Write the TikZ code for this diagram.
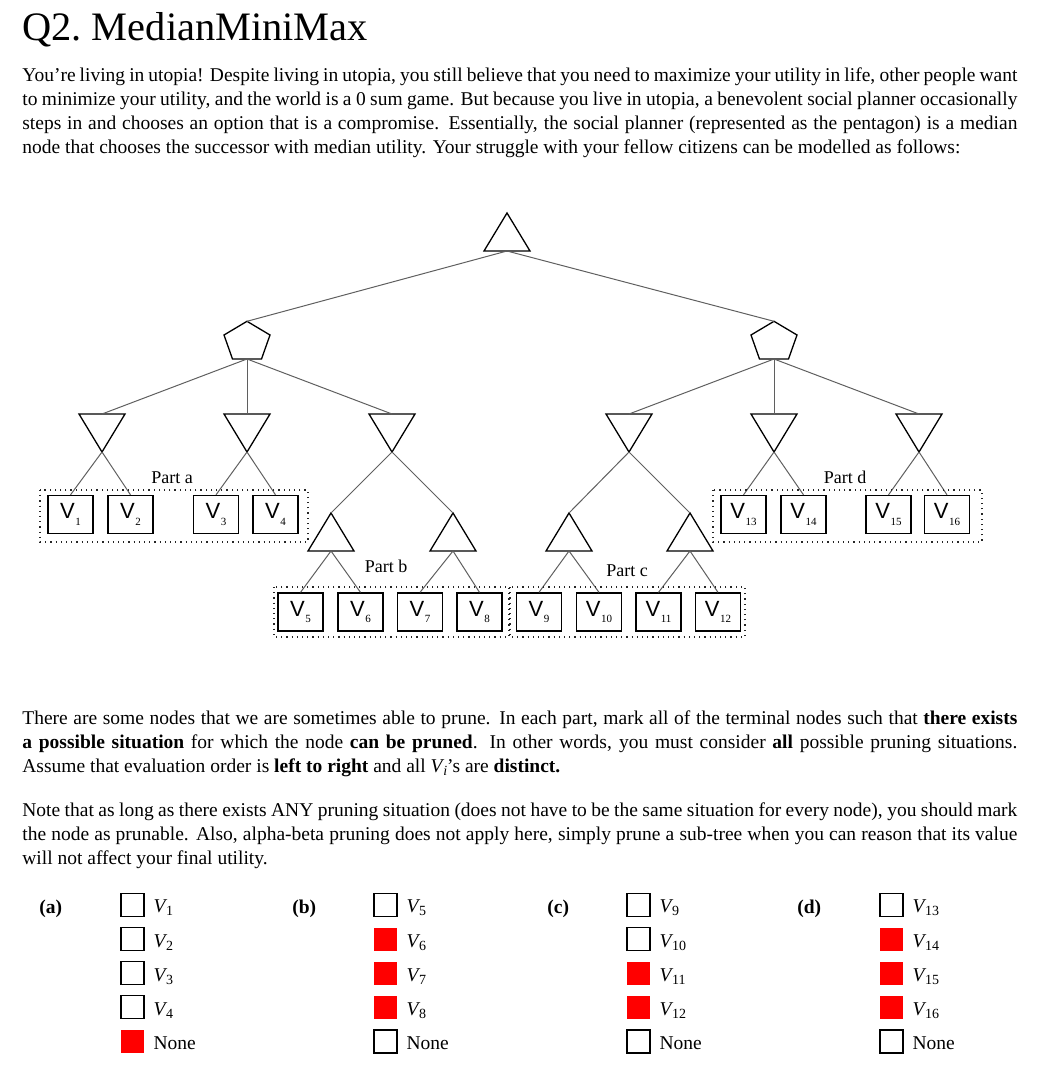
\documentclass[tikz,border=0pt]{standalone}
\usepackage{fontspec}
\setmainfont{Liberation Serif}
\setsansfont{Liberation Sans}
\usepackage{xcolor}
\usepackage{tikz}
\usetikzlibrary{
    positioning,
    calc
}
\definecolor{branchGray}{RGB}{95, 95, 95}
\definecolor{markRed}{RGB}{255, 0, 0}
\hyphenpenalty=10000
% 葉ノードの添字つきラベル
\newcommand{\leafv}[1]{V\kern0.3pt\raisebox{-3.4pt}{\fontsize{5.5}{6}\selectfont\rmfamily #1}}
% 解答欄のラベル
\newcommand{\ansv}[1]{\textit{V}\kern-0.6pt\raisebox{-1.5pt}{\fontsize{7}{8}\selectfont #1}}
\tikzset{
    % 木の枝
    branch/.style={
        draw=branchGray,
        line width=0.5pt
    },
    % 三角形・五角形の輪郭
    outline/.style={
        draw=black,
        line width=0.65pt,
        line join=miter
    },
    % MAX ノード (上向き三角形)
    maxtri/.pic={
        \draw[outline] (0,-19) -- (23,19) -- (-23,19) -- cycle;
        \coordinate (-top) at (0,-19);
        \coordinate (-bot) at (0,19);
    },
    % MIN ノード (下向き三角形)
    mintri/.pic={
        \draw[outline] (-23,-19) -- (23,-19) -- (0,19) -- cycle;
        \coordinate (-top) at (-0,-19);
        \coordinate (-bot) at (0,19);
    },
    % 中央値ノード (五角形)
    median/.pic={
        \draw[outline] (0,-18.7) -- (23,-5) -- (14.5,19) -- (-14.5,19) -- (-23,-5) -- cycle;
        \coordinate (-top) at (0,-18.7);
        \coordinate (-bot) at (0,19);
    },
    % 終端ノード
    leaf/.style={
        rectangle,
        draw=black,
        line width=0.65pt,
        minimum width=22.5pt,
        minimum height=19pt,
        inner sep=0pt,
        font=\fontsize{11}{12}\sffamily
    },
    % 各パートの点線枠
    partbox/.style={
        draw=black!85,
        dotted,
        line width=0.6pt
    },
    partlabel/.style={
        anchor=base,
        font=\fontsize{9}{10}\selectfont
    },
    % 本文
    para/.style={
        anchor=north west,
        text width=497.5pt,
        align=justify,
        inner sep=0pt,
        font=\fontsize{9.75}{12}\selectfont
    },
    % 解答欄のチェックボックス
    chk/.style={
        rectangle,
        draw=black,
        line width=0.6pt,
        minimum size=11.5pt,
        inner sep=0pt
    },
    chkon/.style={
        chk,
        draw=none,
        fill=markRed
    },
    ans/.style={
        label={[anchor=base west, xshift=4.3pt, yshift=-3.9pt, inner sep=0pt, font=\fontsize{9.75}{12}\selectfont]right:#1}
    },
    partname/.style={
        anchor=base west,
        inner sep=0pt,
        font=\fontsize{9.75}{12}\selectfont\bfseries
    }
}

\begin{document}
\begin{tikzpicture}[x=0.5pt, y=-0.5pt]

    \useasboundingbox (0,0) rectangle (1045,1087);

    % タイトルと問題文
    \node[anchor=base west, inner sep=0pt, font=\fontsize{20.2}{24}\selectfont] (title) at (22,40) {Q2.\ MedianMiniMax};

    \node[para] (intro) at (22,67) {
        You're living in utopia! Despite living in utopia, you still believe that you need to maximize your utility in life, other people want\linebreak
        to minimize your utility, and the world is a 0 sum game. But because you live in utopia, a benevolent social planner occasionally\linebreak
        steps in and chooses an option that is a compromise. Essentially, the social planner (represented as the pentagon) is a median\linebreak
        node that chooses the successor with median utility. Your struggle with your fellow citizens can be modelled as follows:
    };

    % [1] 木の上部
    \pic (root) at (507,232) {maxtri};
    \pic (medL) at (247,340) {median};
    \pic (medR) at (774,340) {median};

    \pic (min1) at (102,433) {mintri};
    \pic (min2) at (247,433) {mintri};
    \pic (min3) at (392,433) {mintri};
    \pic (min4) at (629,433) {mintri};
    \pic (min5) at (774,433) {mintri};
    \pic (min6) at (919,433) {mintri};

    % [2] 下段の MAX ノード
    \pic (max1) at (331,532) {maxtri};
    \pic (max2) at (453,532) {maxtri};
    \pic (max3) at (569,532) {maxtri};
    \pic (max4) at (690,532) {maxtri};

    % [3] 終端ノード
    \node[leaf] (v1)  at (70.5,514.5)  {\leafv{1}};
    \node[leaf] (v2)  at (130.5,514.5) {\leafv{2}};
    \node[leaf] (v3)  at (216,514.5)   {\leafv{3}};
    \node[leaf] (v4)  at (275.5,514.5) {\leafv{4}};
    \node[leaf] (v5)  at (300.5,612)   {\leafv{5}};
    \node[leaf] (v6)  at (360.5,612)   {\leafv{6}};
    \node[leaf] (v7)  at (420,612)     {\leafv{7}};
    \node[leaf] (v8)  at (479.5,612)   {\leafv{8}};
    \node[leaf] (v9)  at (539,612)     {\leafv{9}};
    \node[leaf] (v10) at (599,612)     {\leafv{10}};
    \node[leaf] (v11) at (658.5,612)   {\leafv{11}};
    \node[leaf] (v12) at (718,612)     {\leafv{12}};
    \node[leaf] (v13) at (743.5,514.5) {\leafv{13}};
    \node[leaf] (v14) at (803.5,514.5) {\leafv{14}};
    \node[leaf] (v15) at (888.5,514.5) {\leafv{15}};
    \node[leaf] (v16) at (947,514.5)   {\leafv{16}};

    % 枝の描画
    \draw[branch] (root-bot) -- (medL-top);
    \draw[branch] (root-bot) -- (medR-top);
    \draw[branch] (medL-bot) -- (min1-top);
    \draw[branch] (medL-bot) -- (min2-top);
    \draw[branch] (medL-bot) -- (min3-top);
    \draw[branch] (medR-bot) -- (min4-top);
    \draw[branch] (medR-bot) -- (min5-top);
    \draw[branch] (medR-bot) -- (min6-top);
    \draw[branch] (min1-bot) -- (v1.north);
    \draw[branch] (min1-bot) -- (v2.north);
    \draw[branch] (min2-bot) -- (v3.north);
    \draw[branch] (min2-bot) -- (v4.north);
    \draw[branch] (min3-bot) -- (max1-top);
    \draw[branch] (min3-bot) -- (max2-top);
    \draw[branch] (min4-bot) -- (max3-top);
    \draw[branch] (min4-bot) -- (max4-top);
    \draw[branch] (max1-bot) -- (v5.north);
    \draw[branch] (max1-bot) -- (v6.north);
    \draw[branch] (max2-bot) -- (v7.north);
    \draw[branch] (max2-bot) -- (v8.north);
    \draw[branch] (max3-bot) -- (v9.north);
    \draw[branch] (max3-bot) -- (v10.north);
    \draw[branch] (max4-bot) -- (v11.north);
    \draw[branch] (max4-bot) -- (v12.north);
    \draw[branch] (min5-bot) -- (v13.north);
    \draw[branch] (min5-bot) -- (v14.north);
    \draw[branch] (min6-bot) -- (v15.north);
    \draw[branch] (min6-bot) -- (v16.north);

    % 各パートの枠とラベル
    \draw[partbox] (40,490) rectangle (308,542);
    \draw[partbox] (274,587) rectangle (509,637);
    \draw[partbox] (510,587) rectangle (745,637);
    \draw[partbox] (713,490) rectangle (982,542);
    \node[partlabel] (pa) at (172,483) {Part a};
    \node[partlabel] (pb) at (386,572) {Part b};
    \node[partlabel] (pc) at (627,576) {Part c};
    \node[partlabel] (pd) at (845,483) {Part d};

    % 設問
    \node[para] (rule) at (22,710) {
        There are some nodes that we are sometimes able to prune. In each part, mark all of the terminal nodes such that \textbf{there exists}\linebreak
        \textbf{a possible situation} for which the node \textbf{can be pruned}. In other words, you must consider \textbf{all} possible pruning situations.\linebreak
        Assume that evaluation order is \textbf{left to right} and all \textit{V}\kern-0.6pt\raisebox{-1.5pt}{\fontsize{7}{8}\selectfont\itshape i}'s are \textbf{distinct.}
    };

    \node[para] (note) at (22,802) {
        Note that as long as there exists ANY pruning situation (does not have to be the same situation for every node), you should mark\linebreak
        the node as prunable. Also, alpha-beta pruning does not apply here, simply prune a sub-tree when you can reason that its value\linebreak
        will not affect your final utility.
    };

    % [4] 解答欄
    \node[partname] (qa) at (39,913)  {(a)};
    \node[partname] (qb) at (292,913) {(b)};
    \node[partname] (qc) at (547,913) {(c)};
    \node[partname] (qd) at (797,913) {(d)};

    \node[chk, ans=\ansv{1}]    (a1) at (132.5,904.8)  {};
    \node[chk, ans=\ansv{2}]    (a2) at (132.5,939.2)  {};
    \node[chk, ans=\ansv{3}]    (a3) at (132.5,973.2)  {};
    \node[chk, ans=\ansv{4}]    (a4) at (132.5,1007.2) {};
    \node[chkon, ans=None]      (a5) at (132.5,1041.5) {};

    \node[chk, ans=\ansv{5}]    (b1) at (385.5,904.8)  {};
    \node[chkon, ans=\ansv{6}]  (b2) at (385.5,939.2)  {};
    \node[chkon, ans=\ansv{7}]  (b3) at (385.5,973.2)  {};
    \node[chkon, ans=\ansv{8}]  (b4) at (385.5,1007.2) {};
    \node[chk, ans=None]        (b5) at (385.5,1041.5) {};

    \node[chk, ans=\ansv{9}]    (c1) at (638.5,904.8)  {};
    \node[chk, ans=\ansv{10}]   (c2) at (638.5,939.2)  {};
    \node[chkon, ans=\ansv{11}] (c3) at (638.5,973.2)  {};
    \node[chkon, ans=\ansv{12}] (c4) at (638.5,1007.2) {};
    \node[chk, ans=None]        (c5) at (638.5,1041.5) {};

    \node[chk, ans=\ansv{13}]   (d1) at (891.5,904.8)  {};
    \node[chkon, ans=\ansv{14}] (d2) at (891.5,939.2)  {};
    \node[chkon, ans=\ansv{15}] (d3) at (891.5,973.2)  {};
    \node[chkon, ans=\ansv{16}] (d4) at (891.5,1007.2) {};
    \node[chk, ans=None]        (d5) at (891.5,1041.5) {};

\end{tikzpicture}
\end{document}
